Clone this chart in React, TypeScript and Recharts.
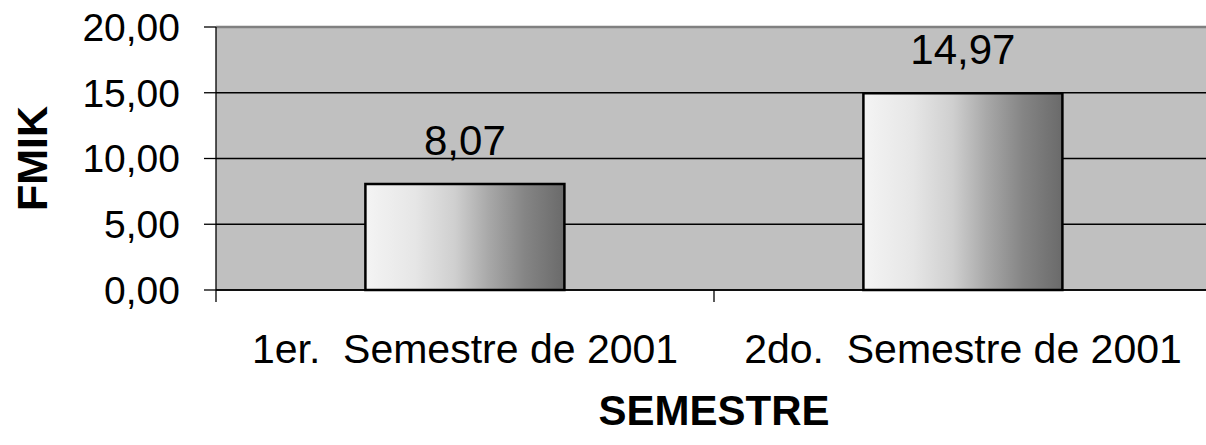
import React from "react";
import {
  Bar,
  BarChart,
  CartesianGrid,
  LabelList,
  ReferenceLine,
  XAxis,
  YAxis,
} from "recharts";

const semesters = ["1er.  Semestre de 2001", "2do.  Semestre de 2001"];
const fmik = [8.07, 14.97];
const yTicks = [0, 5, 10, 15, 20];

const data = semesters.map((name, i) => ({ name, fmik: fmik[i] }));

const FONT = "'Liberation Sans', Arial, sans-serif";
const fmt = (v: number) => v.toFixed(2).replace(".", ",");

function SemesterTick(props: any) {
  const { x, y, payload } = props;
  const half = payload?.offset ?? 249;
  return (
    <g>
      <line x1={x - half} y1={y - 2} x2={x - half} y2={y + 10} stroke="#000" strokeWidth={1.3} />
      <text
        x={x}
        y={y + 71}
        textAnchor="middle"
        fontSize={41}
        fontFamily={FONT}
        fill="#000"
        style={{ whiteSpace: "pre" }}
      >
        {payload.value}
      </text>
    </g>
  );
}

export default function App() {
  return (
    <div
      style={{
        position: "absolute",
        left: 0,
        top: 0,
        width: 1206,
        height: 445,
        overflow: "hidden",
        background: "#fff",
      }}
    >
      <BarChart
        width={1214}
        height={445}
        data={data}
        margin={{ top: 27, right: 2, bottom: 0, left: 0 }}
        barCategoryGap="30%"
      >
        <defs>
          <linearGradient id="barShade" x1="0" y1="0" x2="1" y2="0">
            <stop offset="0%" stopColor="#f4f4f4" />
            <stop offset="25%" stopColor="#e6e6e6" />
            <stop offset="45%" stopColor="#cfcfcf" />
            <stop offset="62%" stopColor="#a8a8a8" />
            <stop offset="80%" stopColor="#858585" />
            <stop offset="100%" stopColor="#6a6a6a" />
          </linearGradient>
        </defs>
        <CartesianGrid fill="#c0c0c0" stroke="#000" strokeWidth={1.3} vertical={false} />
        <ReferenceLine y={20} stroke="#808080" strokeWidth={2.5} />
        <XAxis
          dataKey="name"
          height={155}
          axisLine={{ stroke: "#000", strokeWidth: 1.3 }}
          tickLine={false}
          tickSize={0}
          tick={<SemesterTick />}
          interval={0}
          label={{
            value: "SEMESTRE",
            position: "insideBottom",
            offset: 20,
            fontSize: 42,
            fontWeight: "bold",
            fontFamily: FONT,
            fill: "#000",
          }}
        />
        <YAxis
          width={216}
          domain={[0, 20]}
          ticks={yTicks}
          interval={0}
          tickFormatter={fmt}
          tickSize={12}
          tickMargin={24}
          axisLine={{ stroke: "#000", strokeWidth: 1.3 }}
          tickLine={{ stroke: "#000", strokeWidth: 1.3 }}
          tick={{ fontSize: 39, fontFamily: FONT, fill: "#000" }}
          label={{
            content: ({ viewBox }: any) => {
              const cx = viewBox.x + 47;
              const cy = viewBox.y + viewBox.height / 2;
              return (
                <text
                  x={cx}
                  y={cy}
                  transform={`rotate(-90 ${cx} ${cy})`}
                  textAnchor="middle"
                  fontSize={43}
                  fontWeight="bold"
                  fontFamily={FONT}
                  fill="#000"
                >
                  FMIK
                </text>
              );
            },
          }}
        />
        <Bar
          dataKey="fmik"
          fill="url(#barShade)"
          stroke="#000"
          strokeWidth={2.5}
          isAnimationActive={false}
        >
          <LabelList
            dataKey="fmik"
            position="top"
            offset={29}
            formatter={(v: any) => fmt(Number(v))}
            style={{ fontSize: 42, fontFamily: FONT, fill: "#000" }}
          />
        </Bar>
      </BarChart>
    </div>
  );
}
